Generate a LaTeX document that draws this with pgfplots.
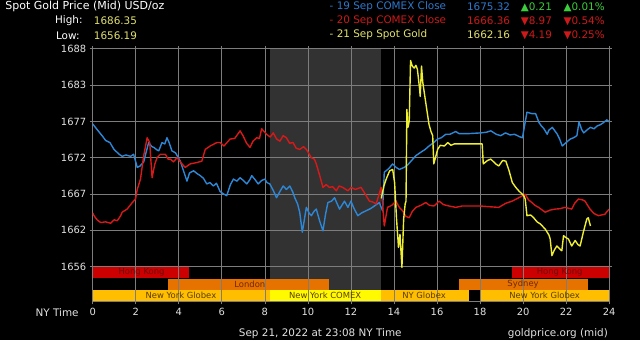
\documentclass[border=0pt]{standalone}
\usepackage{fontspec}
\setmainfont{DejaVu Sans}
\usepackage{pgfplots}
\pgfplotsset{compat=1.18}
\definecolor{gridgray}{RGB}{125,125,125}
\definecolor{labelgray}{RGB}{225,225,225}
\definecolor{shade}{RGB}{50,50,50}
\definecolor{cblue}{RGB}{45,135,215}
\definecolor{cred}{RGB}{215,25,25}
\definecolor{cyel}{RGB}{238,238,50}
\definecolor{tyel}{RGB}{225,225,110}
\definecolor{tblue}{RGB}{45,120,205}
\definecolor{tred}{RGB}{205,25,25}
\definecolor{tgreen}{RGB}{60,205,60}
\definecolor{hkred}{RGB}{204,0,0}
\definecolor{orng}{RGB}{230,115,0}
\definecolor{gold}{RGB}{255,190,0}
\definecolor{cmxy}{RGB}{255,250,0}
\definecolor{hktext}{RGB}{110,10,10}
\definecolor{ortext}{RGB}{110,40,0}
\definecolor{gdtext}{RGB}{90,60,0}
\begin{document}
\pagecolor{black}
\begin{tikzpicture}
\path (0,0) rectangle (640bp,342bp);
\begin{axis}[
  at={(90bp,39bp)}, anchor=south west,
  scale only axis, width=519bp, height=254bp,
  xmin=0, xmax=24, ymin=1651.35, ymax=1688,
  xtick={0,2,...,24},
  ytick={1656.4,1661.667,1666.933,1672.2,1677.467,1682.733,1688},
  yticklabels={1656,1662,1667,1672,1677,1683,1688},
  set layers,
  grid=major, grid style={draw=gridgray, line width=0.7bp},
  axis line style={draw=gridgray, line width=0.7bp},
  tick style={draw=gridgray, line width=0.7bp}, tick align=outside, major tick length=3bp,
  ticklabel style={text=labelgray, font=\fontsize{10}{12}\selectfont},
  /pgf/number format/assume math mode=true,
  clip=true,
]
% COMEX shaded period
\addplot[on layer=axis background, fill=shade, draw=none] coordinates {(8.23,1651.35) (13.38,1651.35) (13.38,1688) (8.23,1688)} -- cycle;
% session bars
\addplot[on layer=axis background, fill=hkred, draw=none] coordinates {(0,1654.72) (4.48,1654.72) (4.48,1656.38) (0,1656.38)} -- cycle;
\addplot[on layer=axis background, fill=hkred, draw=none] coordinates {(19.5,1654.72) (24,1654.72) (24,1656.38) (19.5,1656.38)} -- cycle;
\addplot[on layer=axis background, fill=orng, draw=none] coordinates {(3.5,1653.08) (11.0,1653.08) (11.0,1654.66) (3.5,1654.66)} -- cycle;
\addplot[on layer=axis background, fill=orng, draw=none] coordinates {(17.0,1653.08) (23.0,1653.08) (23.0,1654.66) (17.0,1654.66)} -- cycle;
\addplot[on layer=axis background, fill=gold, draw=none] coordinates {(0,1651.38) (8.23,1651.38) (8.23,1653.02) (0,1653.02)} -- cycle;
\addplot[on layer=axis background, fill=cmxy, draw=none] coordinates {(8.23,1651.38) (13.38,1651.38) (13.38,1653.02) (8.23,1653.02)} -- cycle;
\addplot[on layer=axis background, fill=gold, draw=none] coordinates {(13.38,1651.38) (17.47,1651.38) (17.47,1653.02) (13.38,1653.02)} -- cycle;
\addplot[on layer=axis background, fill=gold, draw=none] coordinates {(18.0,1651.38) (24,1651.38) (24,1653.02) (18.0,1653.02)} -- cycle;
% session labels
\begin{scope}[every node/.style={font=\fontsize{8.5}{10}\selectfont, inner sep=0pt}]
\node[text=hktext] at (axis cs:2.27,1655.55) {Hong Kong};
\node[text=hktext] at (axis cs:21.7,1655.55) {Hong Kong};
\node[text=ortext] at (axis cs:7.3,1653.87) {London};
\node[text=ortext] at (axis cs:20.0,1653.87) {Sydney};
\node[text=gdtext] at (axis cs:4.1,1652.2) {New York Globex};
\node[text=gdtext] at (axis cs:10.8,1652.2) {New York COMEX};
\node[text=gdtext] at (axis cs:15.4,1652.2) {NY Globex};
\node[text=gdtext] at (axis cs:21.0,1652.2) {New York Globex};
\end{scope}
% 19 Sep COMEX (blue)
\addplot[cblue, line width=1.4bp, line join=round] coordinates {
(0,1677.1) (0.2,1676.3) (0.46,1675.3) (0.6,1674.7) (0.8,1674.4) (0.99,1673.4) (1.23,1672.7) (1.37,1672.4) (1.54,1672.6) (1.76,1672.4) (1.9,1672.7) (2.07,1670.8) (2.2,1671.0) (2.37,1671.6) (2.5,1673.2) (2.6,1674.4) (2.75,1673.8) (2.84,1673.7) (3.0,1673.3) (3.07,1673.2) (3.22,1674.4) (3.35,1674.2) (3.45,1675.1) (3.55,1674.4) (3.68,1673.2) (3.85,1672.9) (4.07,1671.7) (4.22,1670.3) (4.38,1668.8) (4.5,1670.0) (4.69,1670.3) (4.85,1669.9) (5.0,1669.6) (5.15,1669.2) (5.3,1668.4) (5.45,1668.6) (5.61,1668.1) (5.75,1668.5) (5.92,1667.3) (6.05,1667.0) (6.23,1666.7) (6.4,1668.3) (6.54,1669.1) (6.7,1668.8) (6.85,1669.3) (7.0,1668.9) (7.16,1668.4) (7.3,1669.0) (7.39,1669.6) (7.55,1669.0) (7.69,1668.4) (7.85,1668.9) (8.0,1669.1) (8.1,1668.6) (8.23,1668.4) (8.4,1667.4) (8.54,1666.4) (8.7,1667.3) (8.85,1668.1) (9.0,1667.6) (9.16,1668.1) (9.3,1667.2) (9.39,1666.4) (9.52,1665.5) (9.62,1664.3) (9.74,1661.4) (9.85,1663.5) (9.93,1665.0) (10.05,1664.2) (10.16,1663.8) (10.28,1664.4) (10.39,1664.75) (10.55,1663.0) (10.7,1661.6) (10.82,1664.0) (10.93,1665.7) (11.1,1665.9) (11.24,1666.4) (11.35,1665.6) (11.47,1664.75) (11.6,1665.4) (11.7,1665.9) (11.86,1665.0) (12.0,1665.9) (12.15,1664.8) (12.32,1663.8) (12.5,1664.2) (12.7,1664.5) (12.9,1664.8) (13.09,1665.2) (13.32,1665.7) (13.47,1664.5) (13.55,1670.1) (13.75,1670.6) (13.94,1671.3) (14.1,1670.8) (14.25,1670.5) (14.48,1670.8) (14.65,1671.2) (14.79,1671.7) (15.02,1672.5) (15.25,1673.0) (15.45,1673.4) (15.63,1673.9) (15.85,1674.4) (16.02,1674.9) (16.2,1675.1) (16.41,1675.6) (16.6,1675.6) (16.87,1676.0) (17.02,1675.7) (17.5,1675.7) (18.04,1675.8) (18.3,1675.9) (18.5,1676.1) (18.75,1675.6) (18.96,1675.4) (19.18,1675.8) (19.4,1675.5) (19.6,1675.6) (19.87,1675.2) (19.97,1675.1) (20.18,1678.8) (20.4,1678.6) (20.58,1678.6) (20.74,1677.3) (20.85,1676.8) (20.97,1676.4) (21.12,1675.6) (21.2,1676.2) (21.36,1676.6) (21.5,1676.0) (21.59,1675.6) (21.7,1674.9) (21.82,1673.9) (22.0,1674.4) (22.19,1674.9) (22.35,1675.1) (22.5,1675.4) (22.6,1677.4) (22.72,1676.3) (22.82,1675.8) (23.0,1676.3) (23.13,1676.6) (23.3,1676.4) (23.44,1676.8) (23.6,1677.0) (23.74,1677.3) (23.9,1677.7) (24.0,1677.4)
};
% 20 Sep COMEX (red)
\addplot[cred, line width=1.4bp, line join=round] coordinates {
(0,1664.2) (0.06,1663.8) (0.2,1663.2) (0.37,1662.8) (0.6,1662.9) (0.83,1662.7) (1.0,1663.2) (1.14,1663.05) (1.3,1663.8) (1.37,1664.3) (1.6,1664.75) (1.84,1665.7) (1.99,1666.2) (2.07,1667.6) (2.22,1669.1) (2.37,1672.5) (2.53,1675.1) (2.65,1674.4) (2.7,1672.0) (2.76,1669.3) (2.88,1671.2) (2.99,1672.2) (3.15,1672.7) (3.38,1672.7) (3.5,1672.0) (3.61,1672.0) (3.75,1671.6) (3.92,1672.2) (4.15,1671.3) (4.3,1670.8) (4.53,1671.3) (4.84,1671.5) (5.07,1671.7) (5.23,1673.4) (5.46,1673.9) (5.77,1674.4) (5.92,1674.4) (6.1,1673.9) (6.38,1674.9) (6.6,1675.0) (6.85,1676.1) (7.0,1675.3) (7.15,1674.3) (7.31,1673.7) (7.45,1674.6) (7.62,1675.1) (7.75,1675.0) (7.85,1676.4) (8.08,1675.6) (8.25,1675.2) (8.39,1675.8) (8.55,1674.9) (8.7,1674.6) (8.85,1675.4) (9.0,1675.1) (9.15,1674.3) (9.31,1674.4) (9.45,1673.6) (9.62,1673.4) (9.8,1673.8) (9.93,1673.4) (10.16,1672.2) (10.3,1672.0) (10.39,1671.3) (10.55,1669.6) (10.7,1667.9) (10.85,1668.3) (11.0,1667.9) (11.15,1668.0) (11.32,1667.4) (11.45,1668.1) (11.62,1667.9) (11.86,1667.4) (12.01,1667.9) (12.2,1667.6) (12.47,1667.9) (12.65,1667.0) (12.86,1665.9) (13.0,1665.8) (13.17,1665.5) (13.3,1666.8) (13.4,1667.9) (13.55,1662.3) (13.7,1665.0) (13.9,1665.3) (14.09,1665.9) (14.25,1665.0) (14.4,1664.5) (14.55,1663.7) (14.71,1663.5) (14.85,1664.4) (15.02,1665.0) (15.25,1665.3) (15.48,1665.7) (15.65,1665.3) (15.86,1665.2) (16.1,1665.9) (16.3,1665.4) (16.56,1665.2) (16.87,1665.0) (17.17,1665.2) (17.5,1665.2) (18.02,1665.2) (18.4,1665.1) (18.87,1665.0) (19.2,1665.6) (19.49,1665.9) (19.8,1666.4) (20.1,1666.9) (20.25,1666.1) (20.41,1665.7) (20.55,1665.3) (20.72,1665.0) (21.03,1664.3) (21.25,1664.6) (21.49,1664.75) (21.7,1664.8) (21.95,1665.0) (22.26,1664.75) (22.4,1665.6) (22.57,1666.2) (22.75,1666.1) (22.88,1665.9) (23.11,1664.75) (23.3,1664.1) (23.5,1663.8) (23.65,1663.9) (23.8,1664.0) (24.0,1664.75)
};
% 21 Sep Spot Gold (yellow)
\addplot[cyel, line width=1.4bp, line join=round] coordinates {
(13.41,1666.3) (13.53,1668.1) (13.65,1669.2) (13.8,1670.3) (13.94,1670.5) (14.03,1668.6) (14.12,1663.3) (14.21,1659.2) (14.28,1661.1) (14.37,1656.3) (14.45,1663.3) (14.52,1665.5) (14.56,1665.9) (14.6,1679.2) (14.65,1676.6) (14.71,1677.5) (14.77,1686.3) (14.85,1685.5) (14.94,1685.2) (15.02,1685.6) (15.09,1685.0) (15.18,1682.5) (15.22,1681.1) (15.28,1685.5) (15.34,1683.1) (15.5,1679.7) (15.63,1677.0) (15.72,1676.0) (15.8,1675.4) (15.85,1671.3) (16.03,1673.4) (16.15,1674.0) (16.34,1673.9) (16.5,1674.4) (16.65,1674.0) (16.8,1674.2) (17.03,1674.2) (18.1,1674.2) (18.15,1671.3) (18.35,1671.8) (18.5,1672.0) (18.73,1671.3) (18.87,1671.0) (19.05,1671.8) (19.2,1671.7) (19.35,1670.3) (19.5,1668.6) (19.66,1667.9) (19.8,1667.4) (20.03,1666.7) (20.1,1666.2) (20.18,1663.8) (20.35,1663.9) (20.49,1663.5) (20.65,1662.9) (20.8,1662.6) (21.03,1661.85) (21.2,1661.0) (21.26,1660.4) (21.34,1658.0) (21.45,1658.8) (21.57,1659.4) (21.7,1659.0) (21.8,1658.7) (21.88,1660.9) (22.0,1660.6) (22.11,1660.4) (22.26,1659.4) (22.42,1660.2) (22.55,1659.6) (22.65,1659.4) (22.8,1661.4) (22.96,1663.3) (23.03,1663.5) (23.13,1662.3)
};
\end{axis}
% header texts
\begin{scope}[every node/.style={font=\fontsize{10.5}{12}\selectfont, inner sep=0pt, anchor=west}]
\node[text=white, font=\fontsize{11.1}{13}\selectfont] at (2bp,335bp) {Spot Gold Price (Mid) USD/oz};
\node[text=white] at (52bp,321bp) {High:};
\node[text=tyel] at (91bp,321bp) {1686.35};
\node[text=white] at (53bp,306bp) {Low:};
\node[text=tyel] at (91bp,306bp) {1656.19};
\node[text=tblue] at (328bp,335bp) {- 19 Sep COMEX Close};
\node[text=tblue] at (466bp,335bp) {1675.32};
\node[text=tgreen] at (520bp,335bp) {▲0.21};
\node[text=tgreen] at (563bp,335bp) {▲0.01\%};
\node[text=tred] at (328bp,321bp) {- 20 Sep COMEX Close};
\node[text=tred] at (466bp,321bp) {1666.36};
\node[text=tred] at (520bp,321bp) {▼8.97};
\node[text=tred] at (563bp,321bp) {▼0.54\%};
\node[text=tyel] at (328bp,307bp) {- 21 Sep Spot Gold};
\node[text=tyel] at (466bp,307bp) {1662.16};
\node[text=tred] at (520bp,307bp) {▼4.19};
\node[text=tred] at (563bp,307bp) {▼0.25\%};
\end{scope}
\begin{scope}[every node/.style={font=\fontsize{10.5}{12}\selectfont, inner sep=0pt, text=labelgray}]
\node[anchor=east] at (76bp,28bp) {NY Time};
\node at (318.7bp,7bp) {Sep 21, 2022 at 23:08 NY Time};
\node at (557.5bp,7bp) {goldprice.org (mid)};
\end{scope}
\end{tikzpicture}
\end{document}
